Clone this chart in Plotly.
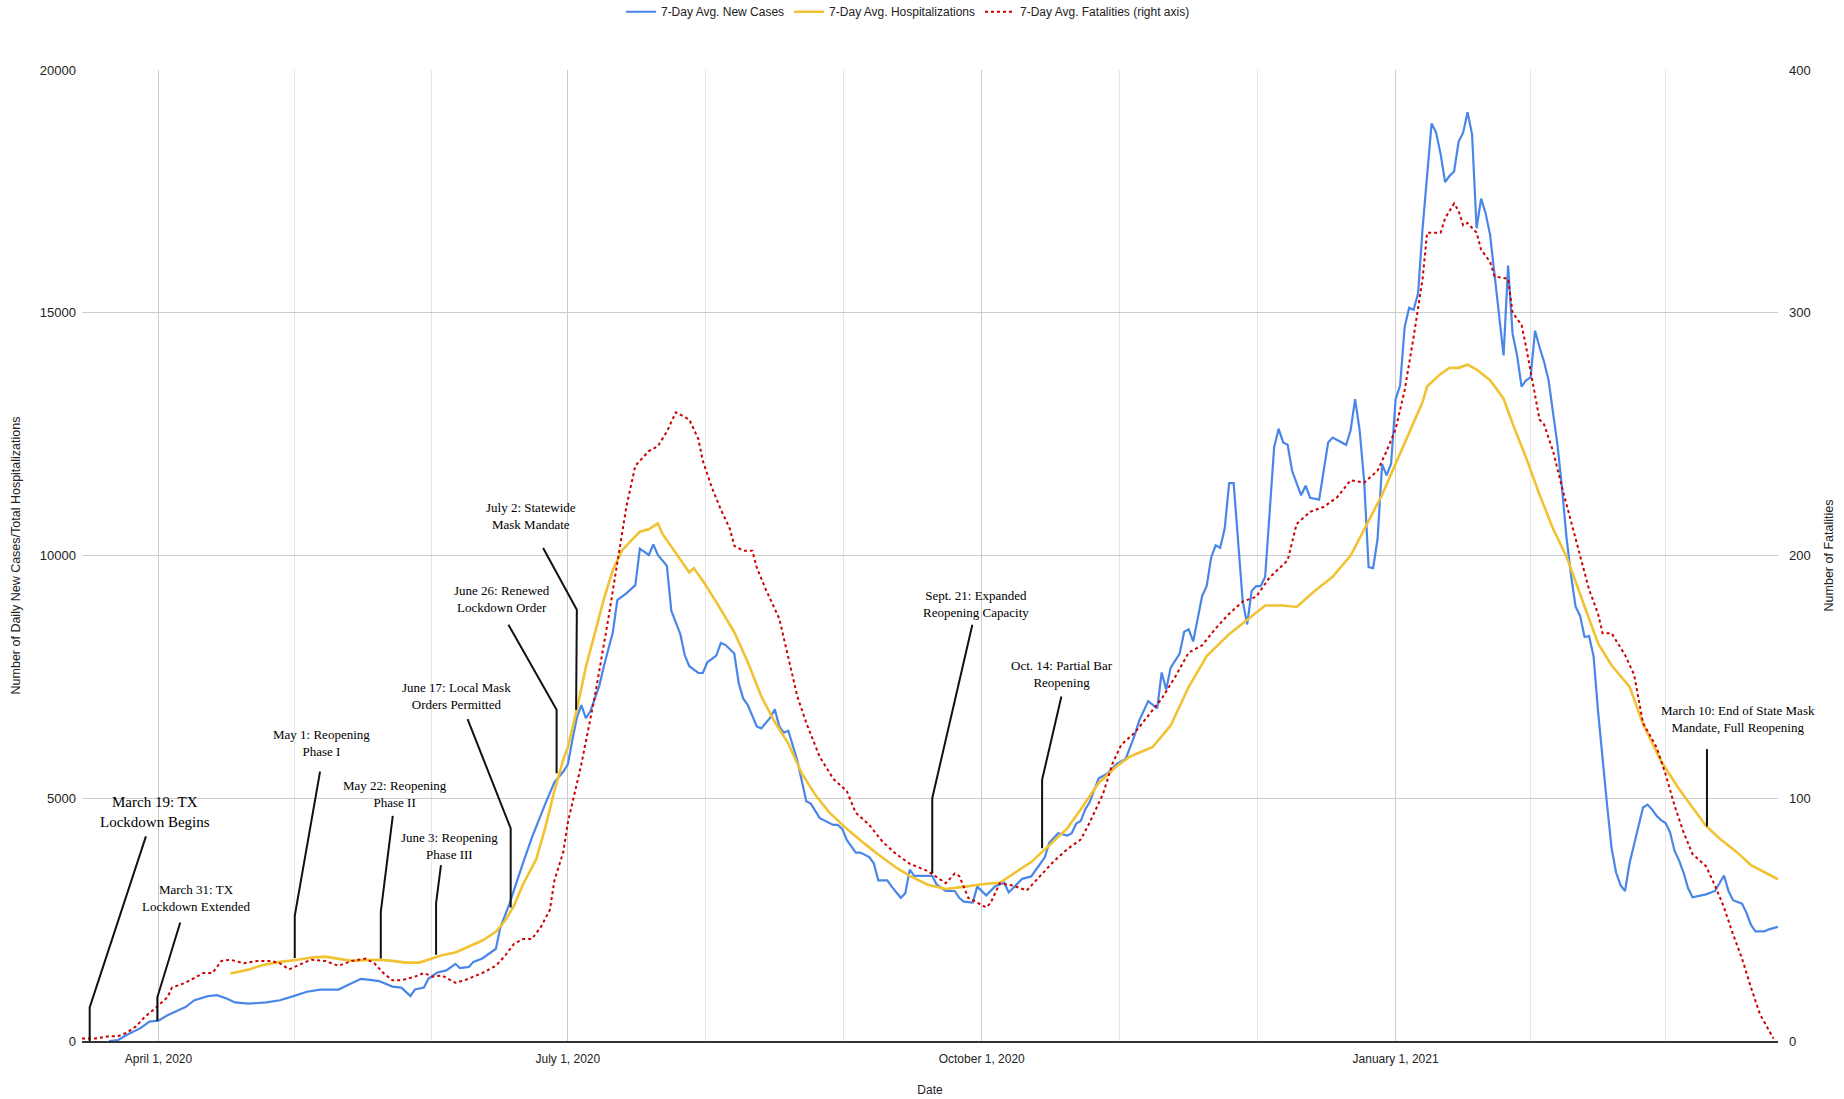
import plotly.graph_objects as go

# ---------------- data ----------------
cases_dates = [
    "2020-03-21", "2020-03-23", "2020-03-25", "2020-03-28", "2020-03-30", "2020-04-01", "2020-04-03",
    "2020-04-05", "2020-04-07", "2020-04-09", "2020-04-12", "2020-04-14", "2020-04-16", "2020-04-18",
    "2020-04-21", "2020-04-25", "2020-04-28", "2020-05-01", "2020-05-04", "2020-05-07", "2020-05-11",
    "2020-05-13", "2020-05-16", "2020-05-18", "2020-05-20", "2020-05-23", "2020-05-25", "2020-05-27",
    "2020-05-28", "2020-05-30", "2020-05-31", "2020-06-02", "2020-06-04", "2020-06-06", "2020-06-07",
    "2020-06-09", "2020-06-10", "2020-06-12", "2020-06-15", "2020-06-16", "2020-06-18", "2020-06-21",
    "2020-06-23", "2020-06-26", "2020-06-28", "2020-06-30", "2020-07-01", "2020-07-02", "2020-07-03",
    "2020-07-04", "2020-07-05", "2020-07-06", "2020-07-08", "2020-07-09", "2020-07-11", "2020-07-12",
    "2020-07-14", "2020-07-16", "2020-07-17", "2020-07-19", "2020-07-20", "2020-07-21", "2020-07-23",
    "2020-07-24", "2020-07-26", "2020-07-27", "2020-07-28", "2020-07-30", "2020-07-31", "2020-08-01",
    "2020-08-03", "2020-08-04", "2020-08-05", "2020-08-07", "2020-08-08", "2020-08-09", "2020-08-10",
    "2020-08-12", "2020-08-13", "2020-08-15", "2020-08-16", "2020-08-17", "2020-08-18", "2020-08-19",
    "2020-08-21", "2020-08-23", "2020-08-24", "2020-08-26", "2020-08-27", "2020-08-29", "2020-08-30",
    "2020-08-31", "2020-09-01", "2020-09-03", "2020-09-04", "2020-09-06", "2020-09-07", "2020-09-08",
    "2020-09-10", "2020-09-11", "2020-09-13", "2020-09-14", "2020-09-15", "2020-09-16", "2020-09-18",
    "2020-09-20", "2020-09-21", "2020-09-23", "2020-09-25", "2020-09-26", "2020-09-27", "2020-09-29",
    "2020-09-30", "2020-10-01", "2020-10-02", "2020-10-04", "2020-10-06", "2020-10-07", "2020-10-08",
    "2020-10-10", "2020-10-12", "2020-10-14", "2020-10-15", "2020-10-16", "2020-10-18", "2020-10-20",
    "2020-10-21", "2020-10-22", "2020-10-23", "2020-10-24", "2020-10-25", "2020-10-27", "2020-10-28",
    "2020-10-29", "2020-10-31", "2020-11-02", "2020-11-04", "2020-11-05", "2020-11-07", "2020-11-09",
    "2020-11-10", "2020-11-11", "2020-11-12", "2020-11-14", "2020-11-15", "2020-11-16", "2020-11-17",
    "2020-11-19", "2020-11-20", "2020-11-21", "2020-11-22", "2020-11-23", "2020-11-24", "2020-11-25",
    "2020-11-26", "2020-11-28", "2020-11-29", "2020-11-30", "2020-12-01", "2020-12-02", "2020-12-03",
    "2020-12-05", "2020-12-06", "2020-12-07", "2020-12-08", "2020-12-09", "2020-12-11", "2020-12-12",
    "2020-12-13", "2020-12-15", "2020-12-17", "2020-12-18", "2020-12-19", "2020-12-21", "2020-12-22",
    "2020-12-23", "2020-12-24", "2020-12-25", "2020-12-26", "2020-12-27", "2020-12-28", "2020-12-29",
    "2020-12-30", "2020-12-31", "2021-01-01", "2021-01-02", "2021-01-03", "2021-01-04", "2021-01-05",
    "2021-01-06", "2021-01-07", "2021-01-09", "2021-01-10", "2021-01-11", "2021-01-12", "2021-01-13",
    "2021-01-14", "2021-01-15", "2021-01-16", "2021-01-17", "2021-01-18", "2021-01-19", "2021-01-20",
    "2021-01-21", "2021-01-22", "2021-01-23", "2021-01-24", "2021-01-25", "2021-01-26", "2021-01-27",
    "2021-01-28", "2021-01-29", "2021-01-30", "2021-01-31", "2021-02-01", "2021-02-02", "2021-02-03",
    "2021-02-04", "2021-02-05", "2021-02-06", "2021-02-07", "2021-02-08", "2021-02-09", "2021-02-10",
    "2021-02-11", "2021-02-12", "2021-02-13", "2021-02-14", "2021-02-15", "2021-02-16", "2021-02-17",
    "2021-02-18", "2021-02-19", "2021-02-20", "2021-02-21", "2021-02-22", "2021-02-23", "2021-02-24",
    "2021-02-25", "2021-02-26", "2021-02-27", "2021-02-28", "2021-03-01", "2021-03-02", "2021-03-03",
    "2021-03-04", "2021-03-05", "2021-03-06", "2021-03-07", "2021-03-08", "2021-03-10", "2021-03-11",
    "2021-03-13", "2021-03-14", "2021-03-15", "2021-03-16", "2021-03-17", "2021-03-19", "2021-03-20",
    "2021-03-21", "2021-03-22", "2021-03-24", "2021-03-25", "2021-03-27",
]
cases_values = [
    0, 20, 130, 265, 400, 420, 530,
    620, 700, 840, 925, 945, 880, 795,
    770, 795, 840, 925, 1015, 1060, 1060,
    1150, 1280, 1260, 1235, 1120, 1100, 925,
    1060, 1100, 1280, 1410, 1455, 1590, 1500,
    1525, 1630, 1700, 1900, 2340, 2820, 3660,
    4190, 4890, 5330, 5550, 5700, 6200, 6660,
    6920, 6650, 6790, 7320, 7720, 8420, 9080,
    9220, 9390, 10140, 10010, 10230, 10010, 9790,
    8860, 8380, 7940, 7720, 7580, 7580, 7800,
    7940, 8200, 8160, 7980, 7360, 7050, 6920,
    6480, 6440, 6660, 6830, 6480, 6350, 6390,
    5780, 4940, 4890, 4590, 4540, 4450, 4450,
    4370, 4140, 3880, 3880, 3790, 3660, 3310,
    3310, 3180, 2950, 3040, 3530, 3400, 3400,
    3400, 3220, 3090, 3090, 2950, 2870, 2850,
    3180, 3090, 3000, 3190, 3260, 3060, 3160,
    3340, 3390, 3640, 3780, 4080, 4280, 4230,
    4280, 4480, 4530, 4770, 4920, 5410, 5460,
    5510, 5710, 5810, 6300, 6600, 7000, 6850,
    7590, 7240, 7690, 7980, 8430, 8480, 8230,
    9170, 9370, 9960, 10210, 10160, 10550, 11490,
    11490, 9070, 8580, 9270, 9370, 9370, 9560,
    12230, 12610, 12330, 12280, 11740, 11240, 11440,
    11190, 11150, 12330, 12430, 12380, 12280, 12580,
    13220, 12580, 11540, 9760, 9740, 10350, 11880,
    11650, 11890, 13220, 13500, 14700, 15100, 15060,
    15400, 16740, 18900, 18710, 18270, 17690, 17820,
    17910, 18520, 18710, 19130, 18670, 16740, 17350,
    17050, 16610, 15840, 14950, 14120, 15970, 14570,
    14120, 13480, 13610, 13670, 14630, 14290, 13990,
    13610, 12970, 12270, 11380, 10360, 9590, 8950,
    8760, 8320, 8340, 7930, 6790, 5770, 4870,
    3980, 3470, 3210, 3090, 3660, 4040, 4430,
    4810, 4870, 4770, 4640, 4550, 4490, 4300,
    3920, 3720, 3470, 3150, 2960, 2990, 3020,
    3090, 3240, 3410, 3090, 2900, 2830, 2640,
    2390, 2260, 2260, 2300, 2350,
]

hosp_dates = [
    "2020-04-17", "2020-04-21", "2020-04-24", "2020-04-28", "2020-05-02", "2020-05-05", "2020-05-08",
    "2020-05-11", "2020-05-14", "2020-05-17", "2020-05-20", "2020-05-23", "2020-05-26", "2020-05-29",
    "2020-05-31", "2020-06-03", "2020-06-06", "2020-06-09", "2020-06-12", "2020-06-15", "2020-06-17",
    "2020-06-19", "2020-06-21", "2020-06-24", "2020-06-26", "2020-06-28", "2020-06-30", "2020-07-01",
    "2020-07-03", "2020-07-05", "2020-07-07", "2020-07-09", "2020-07-11", "2020-07-13", "2020-07-15",
    "2020-07-17", "2020-07-19", "2020-07-21", "2020-07-22", "2020-07-25", "2020-07-28", "2020-07-29",
    "2020-07-31", "2020-08-03", "2020-08-07", "2020-08-10", "2020-08-13", "2020-08-16", "2020-08-19",
    "2020-08-22", "2020-08-25", "2020-08-28", "2020-09-01", "2020-09-05", "2020-09-08", "2020-09-12",
    "2020-09-15", "2020-09-19", "2020-09-23", "2020-09-27", "2020-10-01", "2020-10-05", "2020-10-08",
    "2020-10-12", "2020-10-16", "2020-10-20", "2020-10-23", "2020-10-27", "2020-10-31", "2020-11-03",
    "2020-11-08", "2020-11-12", "2020-11-16", "2020-11-20", "2020-11-25", "2020-11-29", "2020-12-03",
    "2020-12-07", "2020-12-10", "2020-12-14", "2020-12-18", "2020-12-22", "2020-12-25", "2020-12-29",
    "2021-01-01", "2021-01-04", "2021-01-07", "2021-01-08", "2021-01-11", "2021-01-13", "2021-01-15",
    "2021-01-17", "2021-01-19", "2021-01-22", "2021-01-25", "2021-01-27", "2021-01-30", "2021-02-02",
    "2021-02-05", "2021-02-08", "2021-02-11", "2021-02-15", "2021-02-18", "2021-02-22", "2021-02-25",
    "2021-03-01", "2021-03-05", "2021-03-08", "2021-03-11", "2021-03-14", "2021-03-18", "2021-03-21",
    "2021-03-27",
]
hosp_values = [
    1390, 1470, 1560, 1630, 1675, 1720, 1737,
    1700, 1650, 1665, 1675, 1650, 1615, 1615,
    1675, 1765, 1825, 1940, 2070, 2250, 2470,
    2780, 3220, 3750, 4400, 5150, 5800, 6050,
    6830, 7700, 8400, 9100, 9700, 10100, 10300,
    10490, 10540, 10660, 10450, 10050, 9650, 9740,
    9480, 9040, 8420, 7800, 7100, 6570, 6130,
    5510, 5070, 4720, 4370, 4060, 3840, 3570,
    3400, 3220, 3130, 3175, 3230, 3260, 3440,
    3685, 4030, 4380, 4770, 5315, 5660, 5860,
    6056, 6500, 7290, 7930, 8380, 8675, 8970,
    8970, 8940, 9270, 9560, 10000, 10550, 11250,
    11890, 12525, 13163, 13480, 13740, 13865, 13865,
    13930, 13830, 13610, 13230, 12720, 12015, 11250,
    10550, 9975, 9210, 8190, 7740, 7300, 6530,
    5765, 5190, 4810, 4430, 4170, 3880, 3620,
    3330,
]

fatal_dates = [
    "2020-03-15", "2020-03-18", "2020-03-21", "2020-03-23", "2020-03-25", "2020-03-27", "2020-03-29",
    "2020-03-31", "2020-04-03", "2020-04-04", "2020-04-07", "2020-04-09", "2020-04-11", "2020-04-13",
    "2020-04-15", "2020-04-17", "2020-04-20", "2020-04-23", "2020-04-26", "2020-04-28", "2020-04-30",
    "2020-05-03", "2020-05-05", "2020-05-08", "2020-05-11", "2020-05-14", "2020-05-17", "2020-05-19",
    "2020-05-21", "2020-05-23", "2020-05-25", "2020-05-28", "2020-05-30", "2020-06-01", "2020-06-03",
    "2020-06-06", "2020-06-08", "2020-06-10", "2020-06-12", "2020-06-15", "2020-06-17", "2020-06-19",
    "2020-06-21", "2020-06-23", "2020-06-25", "2020-06-27", "2020-06-28", "2020-06-30", "2020-07-01",
    "2020-07-04", "2020-07-07", "2020-07-10", "2020-07-12", "2020-07-14", "2020-07-16", "2020-07-19",
    "2020-07-21", "2020-07-23", "2020-07-25", "2020-07-28", "2020-07-30", "2020-07-31", "2020-08-02",
    "2020-08-04", "2020-08-06", "2020-08-07", "2020-08-09", "2020-08-11", "2020-08-12", "2020-08-14",
    "2020-08-17", "2020-08-19", "2020-08-21", "2020-08-23", "2020-08-26", "2020-08-27", "2020-08-29",
    "2020-09-01", "2020-09-03", "2020-09-06", "2020-09-09", "2020-09-12", "2020-09-15", "2020-09-19",
    "2020-09-23", "2020-09-25", "2020-09-26", "2020-09-28", "2020-09-30", "2020-10-02", "2020-10-03",
    "2020-10-05", "2020-10-08", "2020-10-11", "2020-10-14", "2020-10-17", "2020-10-20", "2020-10-23",
    "2020-10-25", "2020-10-28", "2020-10-30", "2020-11-01", "2020-11-04", "2020-11-07", "2020-11-10",
    "2020-11-13", "2020-11-16", "2020-11-19", "2020-11-22", "2020-11-25", "2020-11-28", "2020-12-01",
    "2020-12-04", "2020-12-08", "2020-12-10", "2020-12-13", "2020-12-16", "2020-12-19", "2020-12-22",
    "2020-12-25", "2020-12-28", "2020-12-30", "2021-01-01", "2021-01-03", "2021-01-05", "2021-01-07",
    "2021-01-08", "2021-01-11", "2021-01-12", "2021-01-14", "2021-01-15", "2021-01-16", "2021-01-17",
    "2021-01-19", "2021-01-20", "2021-01-22", "2021-01-23", "2021-01-26", "2021-01-27", "2021-01-29",
    "2021-01-30", "2021-02-01", "2021-02-02", "2021-02-03", "2021-02-05", "2021-02-07", "2021-02-09",
    "2021-02-11", "2021-02-13", "2021-02-15", "2021-02-16", "2021-02-18", "2021-02-20", "2021-02-21",
    "2021-02-23", "2021-02-24", "2021-02-25", "2021-02-28", "2021-03-02", "2021-03-04", "2021-03-06",
    "2021-03-08", "2021-03-11", "2021-03-13", "2021-03-15", "2021-03-17", "2021-03-19", "2021-03-21",
    "2021-03-23", "2021-03-26",
]
fatal_values = [
    1, 1, 2, 2, 3.5, 6, 10,
    13, 18, 22, 24, 26, 28, 28,
    33, 33.5, 32, 33, 33, 32, 29.5,
    32, 33.5, 33, 31, 33, 34, 32,
    28, 25, 25, 26.5, 28, 26.5, 27,
    24, 25, 26.5, 28, 31, 35, 40,
    42, 42, 47, 54, 66, 78, 90,
    114, 142, 174, 198, 220, 237, 243,
    245, 251, 259, 256, 248, 239, 228,
    219, 211, 204, 202, 202, 195, 186,
    174, 158, 142, 131, 117, 114, 108,
    103, 94, 89, 82, 77, 73, 70,
    65, 69, 68, 59, 57, 55, 57,
    65, 64, 62, 68, 74, 79, 83,
    90, 102, 114, 122, 127, 134, 141,
    150, 160, 163, 170, 176, 181, 183,
    191, 198, 213, 218, 220, 224, 231,
    230, 235, 243, 252, 268, 290, 314,
    333, 333, 339, 345, 342, 336, 337,
    333, 326, 321, 315, 314, 300, 295,
    286, 266, 256, 254, 243, 228, 214,
    199, 186, 176, 168, 168, 162, 159,
    151, 141, 131, 121, 110, 97, 86,
    77, 72, 64, 55, 44, 34, 22,
    11, 1,
]

# x-axis labels (major) and minor gridline positions
major_tick_dates = ["2020-04-01", "2020-07-01", "2020-10-01", "2021-01-01"]
major_tick_text = ["April 1, 2020", "July 1, 2020", "October 1, 2020", "January 1, 2021"]
minor_grid_dates = ["2020-05-01 08:00", "2020-05-31 16:00", "2020-07-31 16:00", "2020-08-31 08:00",
                    "2020-10-31 16:00", "2020-12-01 08:00", "2021-01-31 00:00", "2021-03-02 00:00"]

# event call-outs: text block position + leader line vertices (date, cases-axis value)
events = [
    dict(text="March 19: TX<br>Lockdown Begins", x="2020-03-31 07:00", y=4715, size=15,
         path=[("2020-03-29 05:00", 4215), ("2020-03-16 17:00", 690), ("2020-03-16 17:00", 0)]),
    dict(text="March 31: TX<br>Lockdown Extended", x="2020-04-09 08:00", y=2947, size=13,
         path=[("2020-04-05 20:00", 2440), ("2020-03-31 18:00", 900), ("2020-03-31 18:00", 410)]),
    dict(text="May 1: Reopening<br>Phase I", x="2020-05-07 06:00", y=6135, size=13,
         path=[("2020-05-06 22:00", 5550), ("2020-05-01 07:00", 2580), ("2020-05-01 07:00", 1710)]),
    dict(text="May 22: Reopening<br>Phase II", x="2020-05-23 14:00", y=5079, size=13,
         path=[("2020-05-23 02:00", 4636), ("2020-05-20 10:00", 2662), ("2020-05-20 10:00", 1700)]),
    dict(text="June 3: Reopening<br>Phase III", x="2020-06-04 17:00", y=4013, size=13,
         path=[("2020-06-02 19:00", 3625), ("2020-06-01 17:00", 2834), ("2020-06-01 17:00", 1775)]),
    dict(text="June 17: Local Mask<br>Orders Permitted", x="2020-06-06 07:00", y=7103, size=13,
         path=[("2020-06-08 17:00", 6630), ("2020-06-18 07:00", 4380), ("2020-06-18 07:00", 2750)]),
    dict(text="June 26: Renewed<br>Lockdown Order", x="2020-06-16 07:00", y=9110, size=13,
         path=[("2020-06-17 19:00", 8574), ("2020-06-28 12:00", 6822), ("2020-06-28 12:00", 5517)]),
    dict(text="July 2: Statewide<br>Mask Mandate", x="2020-06-22 19:00", y=10818, size=13,
         path=[("2020-06-25 12:00", 10155), ("2020-07-03 00:00", 8883), ("2020-07-02 20:00", 6822)]),
    dict(text="Sept. 21: Expanded<br>Reopening Capacity", x="2020-09-29 19:00", y=9003, size=13,
         path=[("2020-09-28 22:00", 8574), ("2020-09-20 00:00", 5002), ("2020-09-20 00:00", 3456)]),
    dict(text="Oct. 14: Partial Bar<br>Reopening", x="2020-10-18 19:00", y=7560, size=13,
         path=[("2020-10-18 17:00", 7096), ("2020-10-14 10:00", 5379), ("2020-10-14 10:00", 3971)]),
    dict(text="March 10: End of State Mask<br>Mandate, Full Reopening", x="2021-03-18 00:00", y=6626, size=13,
         path=[("2021-03-11 05:00", 6012), ("2021-03-11 05:00", 4420)]),
]

# ---------------- figure ----------------
SANS = "Liberation Sans, Arial, sans-serif"
SERIF = "Liberation Serif, Times New Roman, serif"

fig = go.Figure()
fig.add_trace(go.Scatter(
    x=cases_dates, y=cases_values, name="7-Day Avg. New Cases", mode="lines",
    line=dict(color="#4a86e8", width=2.2), yaxis="y"))
fig.add_trace(go.Scatter(
    x=hosp_dates, y=hosp_values, name="7-Day Avg. Hospitalizations", mode="lines",
    line=dict(color="#f1c232", width=2.6), yaxis="y"))
fig.add_trace(go.Scatter(
    x=fatal_dates, y=fatal_values, name="7-Day Avg. Fatalities (right axis)", mode="lines",
    line=dict(color="#cc0000", width=2.0, dash="dot"), yaxis="y2"))

shapes = []
annotations = []
for ev in events:
    pts = " L ".join("%s,%s" % (d.replace(" ", "_"), v) for d, v in ev["path"])
    shapes.append(dict(type="path", xref="x", yref="y", path="M " + pts,
                       line=dict(color="#111111", width=2), layer="above"))
    annotations.append(dict(text=ev["text"], x=ev["x"], y=ev["y"], xref="x", yref="y",
                            showarrow=False, align="center", xanchor="center", yanchor="middle",
                            font=dict(family=SERIF, size=ev["size"], color="#000000")))

fig.update_layout(
    width=1844, height=1099,
    margin=dict(l=82, r=66, t=70, b=58, autoexpand=False),
    paper_bgcolor="white", plot_bgcolor="white",
    font=dict(family=SANS, size=12, color="#222222"),
    showlegend=True,
    legend=dict(orientation="h", x=0.487, xanchor="center", y=1.060, yanchor="middle",
                font=dict(family=SANS, size=12, color="#222222"), itemwidth=30,
                bgcolor="rgba(0,0,0,0)", traceorder="normal"),
    xaxis=dict(
        type="date", range=["2020-03-15", "2021-03-27"],
        tickmode="array", tickvals=major_tick_dates, ticktext=major_tick_text,
        showgrid=True, gridcolor="#cccccc", gridwidth=1,
        minor=dict(tickmode="array", tickvals=minor_grid_dates, showgrid=True,
                   gridcolor="#e6e6e6", gridwidth=1, ticks=""),
        showline=True, linecolor="#333333", linewidth=1.5,
        ticks="", ticklabelstandoff=6, zeroline=False,
        tickfont=dict(family=SANS, size=12, color="#222222"),
        title=dict(text="Date", font=dict(family=SANS, size=12, color="#222222"), standoff=20),
        automargin=False,
    ),
    yaxis=dict(
        range=[0, 20000], tickmode="linear", tick0=0, dtick=5000, tickformat="d",
        showgrid=True, gridcolor="#cccccc", gridwidth=1, zeroline=False, showline=False,
        ticks="", ticklabelstandoff=5,
        tickfont=dict(family=SANS, size=13, color="#222222"),
        title=dict(text="Number of Daily New Cases/Total Hospitalizations",
                   font=dict(family=SANS, size=12.5, color="#222222"), standoff=16),
        automargin=False,
    ),
    yaxis2=dict(
        range=[0, 400], tickmode="linear", tick0=0, dtick=100, tickformat="d",
        overlaying="y", side="right", showgrid=False, zeroline=False, showline=False,
        ticks="", ticklabelstandoff=10,
        tickfont=dict(family=SANS, size=13, color="#222222"),
        title=dict(text="Number of Fatalities",
                   font=dict(family=SANS, size=12.5, color="#222222"), standoff=14),
        automargin=False,
    ),
    shapes=shapes,
    annotations=annotations,
)

fig.write_html("out.html", config={"displayModeBar": False},
               post_script="document.body.style.margin='0';document.body.style.overflow='hidden';")
